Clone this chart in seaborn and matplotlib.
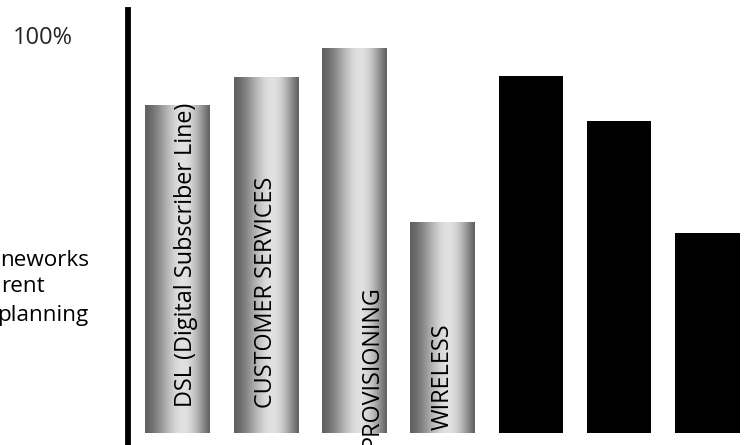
import numpy as np
import pandas as pd
import matplotlib
matplotlib.use("Agg")
import matplotlib.pyplot as plt
import seaborn as sns

# ---- data ----
bar_ids = ["g1", "g2", "g3", "g4", "b1", "b2", "b3"]
bar_labels = ["DSL (Digital Subscriber Line)", "CUSTOMER SERVICES", "PROVISIONING",
              "WIRELESS", "", "", ""]
values = [82.4, 89.4, 96.7, 53.0, 89.7, 78.4, 50.3]
bar_kinds = ["gradient", "gradient", "gradient", "gradient", "solid", "solid", "solid"]
ytick_values = [100]
ytick_labels = ["100%"]
side_lines = ["neworks", "rent", "planning"]

# label placement (styling)
label_dx = [0.10, 0.0, 0.20, 0.0]
label_y0 = [6.5, 6.3, -3.8, 0.8]

sns.set_theme(style="white")
plt.rcParams["font.family"] = ["Open Sans", "DejaVu Sans"]

W, H = 744, 445
fig = plt.figure(figsize=(W / 100, H / 100), dpi=100)
ax = fig.add_axes([128 / W, 0, 616 / W, 435 / H])

df = pd.DataFrame({"id": bar_ids, "value": values})
colors = {bid: ("#8c8c8c" if k == "gradient" else "#000000") for bid, k in zip(bar_ids, bar_kinds)}
sns.barplot(data=df, x="id", y="value", hue="id", palette=colors, width=0.725,
            saturation=1, legend=False, ax=ax, edgecolor="none", linewidth=0)

# cylinder shading for the gray bars
t = np.linspace(0, 1, 200)
prof = 0.38 + 0.50 * np.sin(np.pi * t ** 1.3) ** 1.2
grad = prof[np.newaxis, :]
for patch, kind in zip(ax.patches, bar_kinds):
    if kind != "gradient":
        continue
    x0, y0 = patch.get_x(), patch.get_y()
    w, h = patch.get_width(), patch.get_height()
    im = ax.imshow(grad, extent=[x0, x0 + w, y0, y0 + h], cmap="gray", vmin=0, vmax=1,
                   aspect="auto", interpolation="bilinear", zorder=patch.get_zorder() + 0.1)
    im.set_clip_path(patch)

# vertical labels inside gray bars
for i, lab in enumerate(bar_labels):
    if not lab:
        continue
    ax.text(i + label_dx[i], label_y0[i], lab, rotation=90, ha="center", va="bottom",
            fontsize=16.8, color="black", zorder=5, clip_on=False)

ax.set_xlim(-0.56, 6.413)
ax.set_ylim(-3.02, 106.3)
ax.set_xlabel("")
ax.set_ylabel("")
ax.set_xticks([])
ax.set_yticks(ytick_values)
ax.set_yticklabels(ytick_labels, fontsize=17)
ax.tick_params(axis="y", length=0, pad=40)
for s in ["top", "right", "bottom"]:
    ax.spines[s].set_visible(False)
ax.spines["left"].set_linewidth(4.2)
ax.spines["left"].set_color("black")
ax.set_facecolor("white")
fig.patch.set_facecolor("white")

for j, (line, ypx, xpx) in enumerate(zip(side_lines, [260, 287, 316], [0, 1, -3])):
    fig.text(xpx / W, 1 - ypx / H, line, ha="left", va="center", fontsize=16.2, color="black")

fig.savefig("out.png", dpi=100, facecolor="white")
